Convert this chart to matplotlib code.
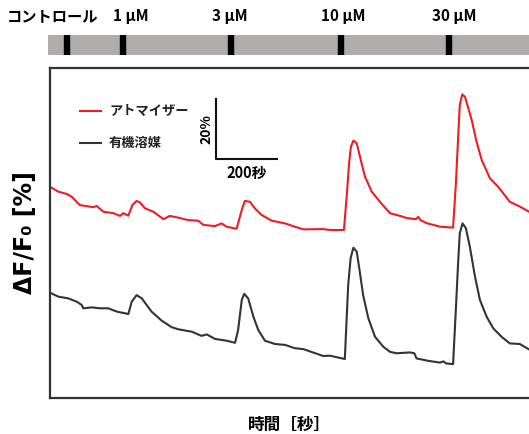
import matplotlib.pyplot as plt
import numpy as np

plt.rcParams['font.family'] = ['Noto Sans CJK JP', 'DejaVu Sans']

# 時間 [秒] と ΔF/F0 [%]
t_atomizer = [0, 27, 55, 71, 98, 142, 153, 175, 208, 230, 240, 257, 270, 284, 295,
              312, 339, 372, 393, 421, 453, 486, 503, 541, 563, 579, 612, 629, 639,
              656, 672, 694, 727, 771, 803, 831, 895, 918, 964, 973, 981, 987, 995,
              1006, 1014, 1022, 1033, 1055, 1082, 1115, 1148, 1170, 1200, 1208, 1215,
              1235, 1279, 1322, 1331, 1339, 1344, 1352, 1361, 1372, 1383, 1399, 1416,
              1443, 1470, 1508, 1541, 1571]
v_atomizer = [70.4, 68.8, 68.0, 67.1, 64.3, 63.6, 64.0, 62.1, 61.6, 60.7, 61.6, 60.8,
              64.3, 65.7, 65.2, 63.2, 62.1, 59.6, 60.7, 60.1, 59.3, 59.1, 57.7, 57.3,
              58.2, 57.1, 56.4, 62.7, 65.7, 65.4, 63.2, 61.0, 59.1, 58.2, 57.1, 56.2,
              56.3, 56.0, 56.0, 67.1, 78.2, 83.8, 85.8, 84.9, 81.6, 78.2, 73.8, 68.8,
              65.4, 61.6, 60.7, 60.0, 59.6, 60.4, 59.3, 58.3, 57.1, 56.8, 71.0, 87.7,
              97.7, 101.2, 100.4, 96.6, 92.7, 85.4, 79.3, 73.2, 70.4, 65.4, 63.8, 62.1]

t_solvent = [0, 27, 60, 88, 104, 109, 137, 164, 191, 219, 257, 268, 284, 301, 333,
             366, 399, 421, 465, 497, 514, 541, 579, 607, 617, 629, 637, 650, 667,
             683, 705, 738, 771, 803, 831, 896, 918, 967, 973, 978, 986, 995, 1006,
             1016, 1027, 1044, 1066, 1093, 1115, 1137, 1180, 1195, 1202, 1240, 1279,
             1290, 1300, 1322, 1331, 1339, 1344, 1353, 1364, 1377, 1394, 1410, 1432,
             1454, 1481, 1508, 1541, 1571]
v_solvent = [35.1, 33.8, 33.2, 32.1, 31.0, 29.9, 30.2, 29.9, 29.9, 28.8, 28.0, 32.1,
             34.3, 33.2, 28.8, 25.8, 23.6, 22.9, 22.1, 20.7, 21.2, 19.7, 19.1, 18.4,
             22.7, 32.7, 34.7, 33.2, 27.1, 22.7, 19.1, 18.0, 17.7, 16.6, 16.3, 14.0,
             14.1, 13.0, 26.6, 37.7, 46.6, 50.1, 48.8, 42.1, 34.3, 26.6, 20.4, 17.1,
             15.4, 14.9, 15.2, 14.9, 13.2, 12.4, 11.8, 12.2, 11.5, 11.3, 29.3, 46.0,
             54.9, 58.2, 56.6, 50.4, 40.4, 32.7, 27.1, 23.2, 20.4, 18.2, 18.0, 16.2]

# 投与タイミング
dose_t = [56, 239, 594, 957, 1312]
dose_labels = ['コントロール', '1 μM', '3 μM', '10 μM', '30 μM']
label_t = [10, 268, 594, 966, 1330]

fig = plt.figure(figsize=(5.29, 4.34), dpi=100)
ax = fig.add_axes([50 / 529, 36 / 434, 1 - 50 / 529, 330 / 434])
bar = fig.add_axes([48 / 529, (434 - 55) / 434, 1 - 48 / 529, 20 / 434])

ax.plot(t_atomizer, v_atomizer, color='#ee1c24', lw=1.5, label='アトマイザー')
ax.plot(t_solvent, v_solvent, color='#333333', lw=1.5, label='有機溶媒')
ax.set_xlim(0, 1571)
ax.set_ylim(0, 110)
ax.set_xticks([])
ax.set_yticks([])
ax.spines['right'].set_visible(False)
for s in ['left', 'top', 'bottom']:
    ax.spines[s].set_linewidth(1.6)
    ax.spines[s].set_color('#333333')

# 凡例（手描き）
for y, c, lab in [(95.7, '#ee1c24', 'アトマイザー'), (85.0, '#333333', '有機溶媒')]:
    ax.plot([98, 167], [y, y], color=c, lw=1.5)
    ax.text(194, y, lab, fontsize=9.5, fontweight='bold', va='center', color='#222222')

# スケールバー
ax.plot([544, 544, 744], [99.7, 79.7, 79.7], color='#111111', lw=1.5)
ax.text(512, 89.7, '20%', rotation=90, fontsize=10, fontweight='bold',
        ha='center', va='center')
ax.text(646, 75.0, '200秒', fontsize=10.5, fontweight='bold', ha='center', va='center')

ax.set_ylabel('ΔF/F₀ [%]', fontsize=17, fontweight='bold', labelpad=9,
              family=['DejaVu Sans'])
ax.set_xlabel('時間［秒］', fontsize=12, fontweight='bold', labelpad=13)

# 上部の投与バー
bar.set_xlim(-6, 1571 + 6)
bar.set_ylim(0, 1)
bar.axvspan(-10, 1600, color='#b0acac')
for t in dose_t:
    bar.axvspan(t - 8, t + 8, color='black')
for t, lab in zip(label_t, dose_labels):
    bar.text(t, 1.95, lab, fontsize=11, fontweight='bold', ha='center', va='center')
bar.axis('off')

fig.savefig('out.png', dpi=100)
